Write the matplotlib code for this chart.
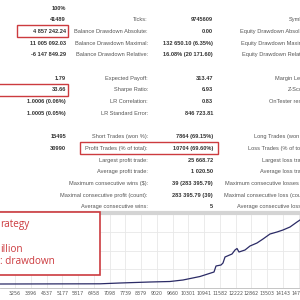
import matplotlib
matplotlib.use("Agg")
import matplotlib.pyplot as plt
from matplotlib.patches import Rectangle
import numpy as np

# report table, one entry per row (empty string = blank cell)
col1_values = ["100%", "41489", "4 857 242.24", "11 005 092.03", "-6 147 849.29", "",
               "1.79", "33.66", "1.0006 (0.06%)", "1.0005 (0.05%)", "",
               "15495", "30990", "", "", "", "", ""]
col2_labels = ["", "Ticks:", "Balance Drawdown Absolute:", "Balance Drawdown Maximal:",
               "Balance Drawdown Relative:", "",
               "Expected Payoff:", "Sharpe Ratio:", "LR Correlation:", "LR Standard Error:", "",
               "Short Trades (won %):", "Profit Trades (% of total):", "Largest profit trade:",
               "Average profit trade:", "Maximum consecutive wins ($):",
               "Maximal consecutive profit (count):", "Average consecutive wins:"]
col3_values = ["", "9745609", "0.00", "132 650.10 (6.35%)", "16.08% (20 171.60)", "",
               "313.47", "6.93", "0.83", "846 723.81", "",
               "7864 (69.15%)", "10704 (69.60%)", "25 668.72", "1 020.50",
               "39 (283 395.79)", "283 395.79 (39)", "5"]
col4_labels = ["", "Symbol:", "Equity Drawdown Absolute:", "Equity Drawdown Maximal:",
               "Equity Drawdown Relative:", "",
               "Margin Level:", "Z-Score:", "OnTester result:", "", "",
               "Long Trades (won %):", "Loss Trades (% of total):", "Largest loss trade:",
               "Average loss trade:", "Maximum consecutive losses ($):",
               "Maximal consecutive loss (count):", "Average consecutive losses:"]

# balance curve (trade number, balance in $)
trades = [2400, 2647, 6709, 7521, 8740, 9552, 10080, 10771, 11340, 11421, 11624, 11705,
          11787, 12071, 12193, 12274, 12355, 12599, 12802, 13086, 13330, 13614, 13899,
          14142, 14427, 14711, 14833, 15000]
balance = [100000, 100000, 110000, 150000, 200000, 225000, 300000, 475000, 700000,
           1000000, 1050000, 1150000, 1450000, 1600000, 1800000, 1875000, 1700000,
           1800000, 2000000, 2150000, 2350000, 2600000, 2700000, 2800000, 2950000,
           3200000, 3300000, 3400000]
x_ticks = [3256, 3896, 4537, 5177, 5817, 6458, 7098, 7739, 8379, 9020, 9660,
           10301, 10941, 11582, 12222, 12862, 13503, 14143, 14784]

W = H = 300.0
fig = plt.figure(figsize=(3, 3), dpi=100)
fig.patch.set_facecolor("white")


def fx(x):
    return x / W


def fy(y):
    return 1 - y / H


row_y = [8 + 11.7 * i for i in range(len(col1_values))]
tf = dict(fontsize=4.1, family="Liberation Sans", ha="right", va="center")
for y, a, b, c, d in zip(row_y, col1_values, col2_labels, col3_values, col4_labels):
    fig.text(fx(66), fy(y), a, color="#333333", fontweight="bold", **tf)
    fig.text(fx(148), fy(y), b, color="#555555", **tf)
    fig.text(fx(213), fy(y), c, color="#333333", fontweight="bold", **tf)
    fig.text(fx(309), fy(y), d, color="#555555", **tf)

red = "#cc3b3f"


def red_box(x0, y0, x1, y1, lw=1.0, fill=False):
    fig.add_artist(Rectangle((fx(x0), fy(y1)), fx(x1) - fx(x0), fy(y0) - fy(y1),
                             transform=fig.transFigure, fill=fill, facecolor="white",
                             edgecolor=red, linewidth=lw, zorder=5))


red_box(17, row_y[2] - 6, 68, row_y[2] + 6)
red_box(-3, row_y[7] - 6, 68, row_y[7] + 6)
red_box(80, row_y[12] - 6, 218, row_y[12] + 6)

# balance chart
ax = fig.add_axes([0, fy(288), 1, (288 - 213) / H])
ax.plot(trades, balance, color="#2b2b66", lw=0.9)
ax.set_xlim(2647, 14833)
ax.set_ylim(-100000, 3650000)
ax.set_xticks(x_ticks)
ax.set_xticklabels([str(t) for t in x_ticks])
ax.set_yticks(np.linspace(-100000, 3650000, 5))
ax.set_yticklabels([])
ax.grid(True, color="#e8e8e8", lw=0.6)
ax.tick_params(length=0, labelsize=3.4, colors="#555555", pad=2.5)
for s in ["left", "right"]:
    ax.spines[s].set_visible(False)
ax.spines["top"].set_color("#d4d4d4")
ax.spines["top"].set_linewidth(3)
ax.spines["bottom"].set_color("#bbbbbb")
ax.spines["bottom"].set_linewidth(0.6)

# red note box over the chart
red_box(-5, 212, 100, 275, lw=1.2, fill=True)
note_font = dict(fontsize=7.2, color=red, family="Open Sans", ha="left",
                 va="center", zorder=6)
fig.text(fx(0), fy(224), "rategy", **note_font)
fig.text(fx(0), fy(250), "illion", **note_font)
fig.text(fx(0), fy(262), ": drawdown", **note_font)

fig.savefig("out.png", dpi=100)
